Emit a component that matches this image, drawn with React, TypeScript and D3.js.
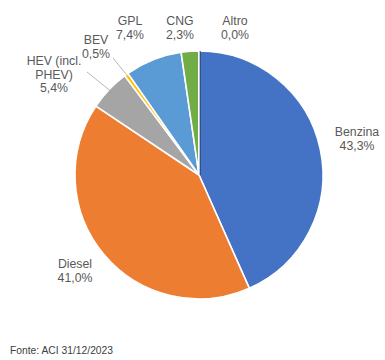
import React from "react";
import * as d3 from "d3";

const categories = ["Benzina", "Diesel", "HEV (incl. PHEV)", "BEV", "GPL", "CNG", "Altro"];
const values = [43.3, 41.0, 5.4, 0.5, 7.4, 2.3, 0.0];
const valueLabels = ["43,3%", "41,0%", "5,4%", "0,5%", "7,4%", "2,3%", "0,0%"];
const labelLines = [["Benzina"], ["Diesel"], ["HEV (incl.", "PHEV)"], ["BEV"], ["GPL"], ["CNG"], ["Altro"]];
const colors = ["#4472C4", "#ED7D31", "#A5A5A5", "#FFC000", "#5B9BD5", "#70AD47", "#264478"];
const labelPos: [number, number][] = [
  [357, 136],
  [75, 268],
  [54, 65],
  [96, 44],
  [130, 25],
  [180, 25],
  [235, 25],
];

const W = 385, H = 360;
const cx = 199, cy = 175, R = 124;

export default function App() {
  const arcs = d3.pie<number>().sort(null).startAngle(0).endAngle(2 * Math.PI)(values);
  const arc = d3.arc<d3.PieArcDatum<number>>().innerRadius(0).outerRadius(R);
  const bev = arcs[3];
  const bevMid = (bev.startAngle + bev.endAngle) / 2;
  const bevEdge: [number, number] = [cx + R * Math.sin(bevMid), cy - R * Math.cos(bevMid)];
  const hev = arcs[2];
  const hevMid = (hev.startAngle + hev.endAngle) / 2;
  const hevEdge: [number, number] = [cx + (R - 2) * Math.sin(hevMid), cy - (R - 2) * Math.cos(hevMid)];
  const altro = arcs[6];
  const lh = 13.5;
  return (
    <svg width={W} height={H} style={{ position: "absolute", left: 0, top: 0, background: "#fff" }}
      fontFamily="'Liberation Sans', Arial, sans-serif">
      <g transform={`translate(${cx},${cy})`}>
        {arcs.map((a, i) => (
          <path key={i} d={arc(a) || ""} fill={colors[i]} stroke="#fff" strokeWidth={1.6} strokeLinejoin="round" />
        ))}
        <line x1={1.2} y1={0} x2={1.2 + 0 * altro.startAngle} y2={-R} stroke={colors[6]} strokeWidth={1} />
      </g>
      <line x1={113} y1={58} x2={bevEdge[0]} y2={bevEdge[1]} stroke="#A6A6A6" strokeWidth={0.8} />
      <line x1={87} y1={72} x2={hevEdge[0]} y2={hevEdge[1]} stroke="#A6A6A6" strokeWidth={0.8} />
      {categories.map((c, i) => {
        const [x, y] = labelPos[i];
        const lines = [...labelLines[i], valueLabels[i]];
        return (
          <text key={c} x={x} y={y} textAnchor="middle" fontSize={12.3} fill="#595959">
            {lines.map((t, j) => (
              <tspan key={j} x={x} dy={j === 0 ? 0 : lh}>{t}</tspan>
            ))}
          </text>
        );
      })}
      <text x={10} y={354} fontSize={10.3} fill="#404040">Fonte: ACI 31/12/2023</text>
    </svg>
  );
}
